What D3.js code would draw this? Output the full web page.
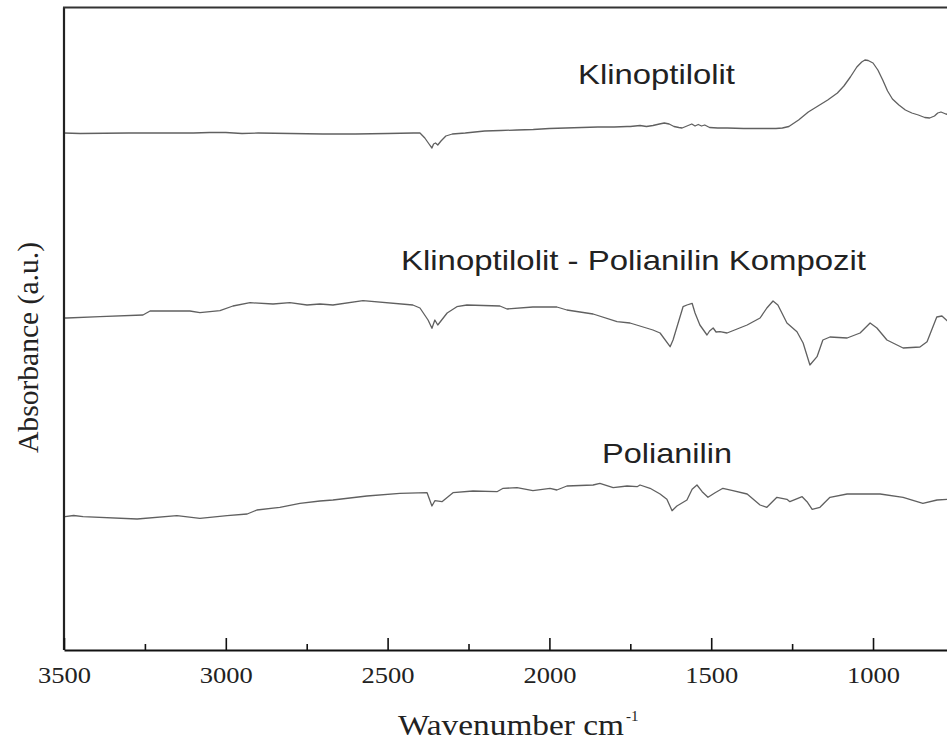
<!DOCTYPE html>
<html>
<head>
<meta charset="utf-8">
<script src="https://cdn.jsdelivr.net/npm/d3@7"></script>
<style>
  html, body { margin: 0; padding: 0; background: #fff; }
  svg { display: block; }
</style>
</head>
<body>
<svg id="chart" width="947" height="744"></svg>
<script>
// ---- data (wavenumber cm-1, absorbance a.u.) ----
const klinoWn  = [3500,3450,3300,3200,3100,3050,3000,2950,2900,2800,2700,2600,2500,2420,2400,2385,2372,2363,2358,2352,2345,2335,2320,2300,2260,2200,2150,2100,2050,2000,1950,1900,1850,1800,1760,1750,1720,1700,1680,1660,1645,1630,1615,1600,1590,1575,1560,1550,1540,1530,1520,1505,1480,1450,1400,1350,1300,1280,1260,1230,1200,1170,1140,1110,1090,1070,1050,1035,1025,1015,1000,985,970,955,940,920,900,880,860,840,825,810,800,790,775,760];
const klinoAbs = [51.7,51.65,51.7,51.7,51.7,51.75,51.75,51.65,51.7,51.65,51.6,51.6,51.65,51.7,51.7,51.2,50.6,50.2,50.6,50.7,50.5,50.9,51.4,51.6,51.7,51.9,51.95,52.0,52.05,52.15,52.2,52.25,52.3,52.3,52.35,52.35,52.45,52.35,52.45,52.6,52.7,52.6,52.35,52.25,52.2,52.4,52.6,52.4,52.55,52.4,52.5,52.25,52.2,52.2,52.15,52.15,52.15,52.2,52.35,53.0,53.8,54.4,55.0,55.7,56.4,57.3,58.3,58.8,59.0,58.95,58.7,58.0,57.0,55.9,55.1,54.5,54.0,53.7,53.5,53.25,53.2,53.4,53.7,53.8,53.6,53.5];

const kompWn  = [3500,3491,3389,3256,3234,3111,3080,3018,2978,2925,2854,2802,2749,2709,2669,2576,2422,2400,2375,2363,2354,2345,2316,2286,2255,2153,2131,2051,1977,1946,1865,1791,1751,1680,1658,1627,1618,1587,1575,1559,1550,1535,1513,1505,1494,1485,1473,1451,1389,1349,1328,1309,1294,1266,1235,1216,1195,1173,1155,1133,1080,1040,1009,988,957,907,855,833,803,787,768];
const kompAbs = [33.2,33.2,33.33,33.5,33.9,33.9,33.73,33.93,34.4,34.73,34.6,34.73,34.5,34.6,34.5,34.93,34.5,34.2,33.0,32.17,33.0,32.5,33.7,34.33,34.5,34.4,34.1,34.3,34.3,34.0,33.6,32.83,32.7,32.0,31.7,30.33,31.0,34.33,34.5,34.67,33.7,32.5,31.5,31.9,32.2,31.8,31.83,31.7,32.5,33.2,34.2,34.9,34.5,32.7,31.83,30.7,28.5,29.33,31.0,31.3,31.2,31.7,32.7,32.2,31.0,30.2,30.3,30.83,33.3,33.4,32.83];

const paniWn  = [3500,3497,3470,3441,3274,3151,3080,2996,2934,2904,2833,2771,2709,2669,2564,2462,2378,2363,2354,2332,2298,2236,2162,2143,2100,2051,1998,1977,1946,1865,1844,1803,1760,1729,1720,1689,1658,1637,1621,1606,1575,1559,1544,1528,1510,1488,1464,1433,1389,1349,1328,1297,1266,1257,1219,1204,1188,1164,1133,1080,1040,978,907,846,802,768];
const paniAbs = [13.33,13.33,13.45,13.33,13.1,13.43,13.17,13.43,13.6,14.0,14.27,14.67,14.9,15.0,15.4,15.67,15.73,14.4,14.93,14.83,15.73,15.9,15.83,16.17,16.23,15.93,16.17,16.0,16.4,16.5,16.67,16.23,16.4,16.33,16.5,16.17,15.6,15.07,13.93,14.4,15.0,16.07,16.5,15.83,15.27,15.73,16.17,15.93,15.6,14.5,14.27,15.27,15.07,14.83,15.33,14.83,14.07,14.27,15.27,15.6,15.6,15.6,15.27,14.67,15.0,15.07];

const seriesNames = ["Klinoptilolit", "Klinoptilolit - Polianilin Kompozit", "Polianilin"];
const majorTicks = [3500, 3000, 2500, 2000, 1500, 1000];
const minorTicks = [3250, 2750, 2250, 1750, 1250, 750];
const xTitle = "Wavenumber cm";
const xTitleSup = "-1";
const yTitle = "Absorbance (a.u.)";

// ---- drawing ----
const SERIF = "'Liberation Serif', 'Times New Roman', serif";
const SANS = "'Liberation Sans', Arial, sans-serif";
const svg = d3.select("#chart");
const x = d3.scaleLinear().domain([3500, 700]).range([64, 970.1]);
const y = d3.scaleLinear().domain([0, 64]).range([650, 10]);

const line = d3.line().x(d => x(d[0])).y(d => y(d[1]));
const series = [
  {name: seriesNames[0], wn: klinoWn, ab: klinoAbs, lx: 578, ly: 84, lw: 157},
  {name: seriesNames[1], wn: kompWn, ab: kompAbs, lx: 401, ly: 270, lw: 465},
  {name: seriesNames[2], wn: paniWn, ab: paniAbs, lx: 602, ly: 463, lw: 130}
];

series.forEach(s => {
  svg.append("path")
    .datum(s.wn.map((w, i) => [w, s.ab[i]]))
    .attr("d", line)
    .attr("fill", "none")
    .attr("stroke", "#606060")
    .attr("stroke-width", 1.3)
    .attr("stroke-linejoin", "round");
  svg.append("text")
    .attr("x", s.lx).attr("y", s.ly)
    .style("font-family", SANS)
    .style("font-size", "28px")
    .attr("fill", "#222")
    .attr("textLength", s.lw)
    .attr("lengthAdjust", "spacingAndGlyphs")
    .text(s.name);
});

// frame: left axis & top line
svg.append("line").attr("x1", 64).attr("x2", 64).attr("y1", 7.5).attr("y2", 650)
  .attr("stroke", "#222").attr("stroke-width", 2.2);
svg.append("line").attr("x1", 63).attr("x2", 947).attr("y1", 7.5).attr("y2", 7.5)
  .attr("stroke", "#333").attr("stroke-width", 2.2);

// bottom axis (major)
const gx = svg.append("g").attr("transform", "translate(0,650)")
  .call(d3.axisBottom(x).tickValues(majorTicks).tickSizeInner(-12).tickSizeOuter(0).tickPadding(17).tickFormat(d3.format("d")));
gx.attr("font-family", null).attr("font-size", null);
gx.select(".domain").attr("stroke", "#111").attr("stroke-width", 2.2);
gx.selectAll(".tick line").attr("stroke", "#111").attr("stroke-width", 1.6);
gx.selectAll(".tick text")
  .style("font-family", SERIF)
  .style("font-size", "23px")
  .attr("fill", "#222")
  .attr("textLength", 53)
  .attr("lengthAdjust", "spacingAndGlyphs");

// minor ticks
const gm = svg.append("g").attr("transform", "translate(0,650)")
  .call(d3.axisBottom(x).tickValues(minorTicks).tickSizeInner(-6).tickSizeOuter(0).tickFormat(""));
gm.select(".domain").remove();
gm.selectAll(".tick line").attr("stroke", "#111").attr("stroke-width", 1.6);

// axis titles
svg.append("text")
  .attr("x", 398).attr("y", 735)
  .style("font-family", SERIF)
  .style("font-size", "30px")
  .attr("fill", "#222")
  .attr("textLength", 226)
  .attr("lengthAdjust", "spacingAndGlyphs")
  .text(xTitle);
svg.append("text")
  .attr("x", 626).attr("y", 721)
  .style("font-family", SERIF)
  .style("font-size", "15px")
  .attr("fill", "#222")
  .text(xTitleSup);

svg.append("text")
  .attr("transform", "translate(38,347.5) rotate(-90)")
  .attr("text-anchor", "middle")
  .style("font-family", SERIF)
  .style("font-size", "29px")
  .attr("fill", "#222")
  .attr("textLength", 211)
  .attr("lengthAdjust", "spacingAndGlyphs")
  .text(yTitle);
</script>
</body>
</html>
